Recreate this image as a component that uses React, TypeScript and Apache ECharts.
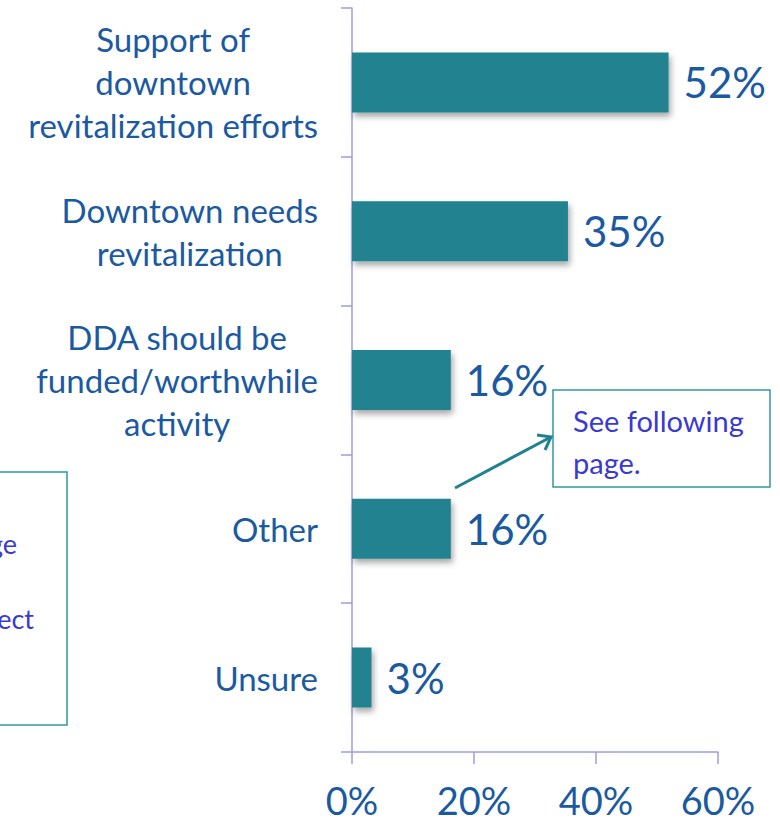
import React, { useEffect, useRef } from "react";
import * as echarts from "echarts";

const categories = [
  "Support of\ndowntown\nrevitalization efforts",
  "Downtown needs\nrevitalization",
  "DDA should be\nfunded/worthwhile\nactivity",
  "Other",
  "Unsure",
];
const values = [51.9, 35.4, 16.2, 16.2, 3.2];
const xTicks = [0, 20, 40, 60];

const FONT = "Lato, 'Open Sans', sans-serif";
const AXIS_COLOR = "#9c9ce0";
const BAR_COLOR = "#20828f";
const TEXT_COLOR = "#1b5aa0";
const NOTE_COLOR = "#3a3ad0";
const BOX_COLOR = "#3397a0";

export default function App() {
  const ref = useRef<HTMLDivElement>(null);
  useEffect(() => {
    if (!ref.current) return;
    const chart = echarts.init(ref.current, undefined, { renderer: "svg" });
    chart.setOption({
      animation: false,
      backgroundColor: "#ffffff",
      grid: { left: 352, right: 62, top: 8, bottom: 70, containLabel: false },
      xAxis: {
        type: "value",
        min: xTicks[0],
        max: xTicks[xTicks.length - 1],
        interval: 20,
        splitLine: { show: false },
        axisLine: { show: true, lineStyle: { color: AXIS_COLOR, width: 1.5 } },
        axisTick: { show: true, length: 12, lineStyle: { color: AXIS_COLOR, width: 1.5 } },
        axisLabel: {
          formatter: (v: number) => v + "%",
          color: TEXT_COLOR,
          fontFamily: FONT,
          fontSize: 38,
          margin: 29,
        },
      },
      yAxis: {
        type: "category",
        data: categories,
        inverse: true,
        axisLine: { show: true, lineStyle: { color: AXIS_COLOR, width: 1.5 } },
        axisTick: { show: true, length: 11, lineStyle: { color: AXIS_COLOR, width: 1.5 } },
        axisLabel: {
          align: "right",
          margin: 34,
          lineHeight: 43,
          formatter: (v: string) =>
            v
              .split("\n")
              .map((l) => `{c|${l}}`)
              .join("\n"),
          rich: {
            c: {
              align: "center",
              color: TEXT_COLOR,
              fontFamily: FONT,
              fontSize: 33,
              lineHeight: 43,
            },
          },
        },
      },
      series: [
        {
          type: "bar",
          data: values,
          barWidth: 60,
          itemStyle: {
            color: BAR_COLOR,
            shadowColor: "rgba(0,0,0,0.35)",
            shadowBlur: 6,
            shadowOffsetX: 2,
            shadowOffsetY: 4,
          },
          label: {
            show: true,
            position: "right",
            distance: 15,
            formatter: (p: any) => Math.round(p.value) + "%",
            color: TEXT_COLOR,
            fontFamily: FONT,
            fontSize: 42,
          },
        },
      ],
      graphic: [
        {
          type: "rect",
          shape: { x: -200, y: 472, width: 267, height: 253 },
          style: { fill: "#ffffff", stroke: BOX_COLOR, lineWidth: 1.5 },
        },
        {
          type: "text",
          style: {
            x: 17,
            y: 543,
            text: "ge",
            textAlign: "right",
            textVerticalAlign: "middle",
            fill: NOTE_COLOR,
            font: `27px ${FONT}`,
          },
        },
        {
          type: "text",
          style: {
            x: 34,
            y: 618,
            text: "ect",
            textAlign: "right",
            textVerticalAlign: "middle",
            fill: NOTE_COLOR,
            font: `27px ${FONT}`,
          },
        },
        {
          type: "rect",
          shape: { x: 553, y: 390, width: 217, height: 97 },
          style: { fill: "#ffffff", stroke: BOX_COLOR, lineWidth: 1.5 },
        },
        {
          type: "text",
          style: {
            x: 573,
            y: 420,
            text: "See following",
            textVerticalAlign: "middle",
            fill: NOTE_COLOR,
            font: `29px ${FONT}`,
          },
        },
        {
          type: "text",
          style: {
            x: 573,
            y: 462,
            text: "page.",
            textVerticalAlign: "middle",
            fill: NOTE_COLOR,
            font: `29px ${FONT}`,
          },
        },
        {
          type: "line",
          shape: { x1: 455, y1: 488, x2: 549, y2: 438 },
          style: { stroke: BAR_COLOR, lineWidth: 3 },
        },
        {
          type: "polyline",
          shape: { points: [[537, 435], [551, 437], [545, 450]] },
          style: { stroke: BAR_COLOR, lineWidth: 3, fill: "none" },
        },
      ],
    });
    return () => chart.dispose();
  }, []);
  return (
    <div
      ref={ref}
      style={{ position: "fixed", left: 0, top: 0, width: 780, height: 822 }}
    />
  );
}
